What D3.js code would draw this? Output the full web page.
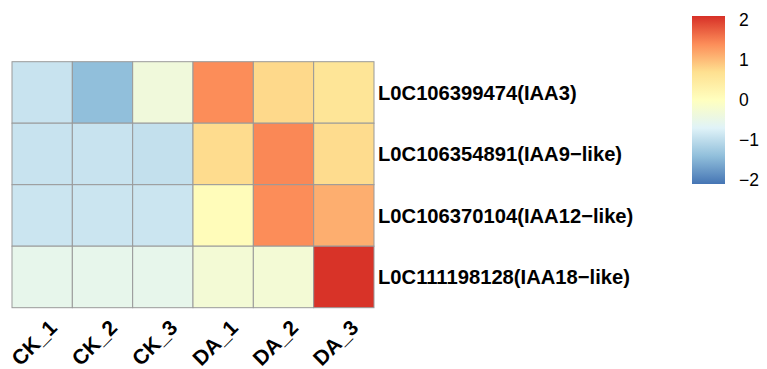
<!DOCTYPE html>
<html>
<head>
<meta charset="utf-8">
<script src="https://cdn.jsdelivr.net/npm/d3@7"></script>
<style>
  body { margin: 0; background: #fff; }
  svg { display: block; font-family: "Liberation Sans", Arial, sans-serif; }
</style>
</head>
<body>
<div id="chart"></div>
<script>
// samples (columns) and genes (rows)
const samples = ["CK_1", "CK_2", "CK_3", "DA_1", "DA_2", "DA_3"];
const genes = [
  "L0C106399474(IAA3)",
  "L0C106354891(IAA9\u2212like)",
  "L0C106370104(IAA12\u2212like)",
  "L0C111198128(IAA18\u2212like)"
];
// row-scaled expression values
const iaa3   = [-0.91, -1.40, -0.34, 1.40, 0.76, 0.59];
const iaa9   = [-0.91, -0.91, -0.96, 0.73, 1.44, 0.73];
const iaa12  = [-0.89, -0.89, -0.89, 0.07, 1.40, 1.12];
const iaa18  = [-0.54, -0.54, -0.54, -0.27, -0.27, 2.08];
const rows = [iaa3, iaa9, iaa12, iaa18];

const legendTicks = [-2, -1, 0, 1, 2];
const palette = ["#4575B4", "#91BFDB", "#E0F3F8", "#FFFFBF", "#FEE090", "#FC8D59", "#D73027"];
const colorMax = 2.1;

const width = 767, height = 369;

const svg = d3.select("#chart").append("svg")
    .attr("width", width)
    .attr("height", height);

const x = d3.scaleBand().domain(samples).range([12, 374]);
const y = d3.scaleBand().domain(genes).range([61.7, 307.7]);

const color = d3.scaleLinear()
    .domain(d3.range(palette.length).map(i => -colorMax + i * 2 * colorMax / (palette.length - 1)))
    .range(palette)
    .clamp(true);

const cells = [];
rows.forEach((vals, r) => vals.forEach((v, c) => cells.push({ gene: genes[r], sample: samples[c], value: v })));

// heatmap cells
svg.append("g")
  .selectAll("rect")
  .data(cells)
  .join("rect")
    .attr("x", d => x(d.sample))
    .attr("y", d => y(d.gene))
    .attr("width", x.bandwidth())
    .attr("height", y.bandwidth())
    .attr("fill", d => color(d.value))
    .attr("stroke", "#999999")
    .attr("stroke-width", 1);

// row labels
svg.append("g")
  .selectAll("text")
  .data(genes)
  .join("text")
    .attr("x", 378)
    .attr("y", d => y(d) + y.bandwidth() / 2)
    .attr("dy", "0.36em")
    .attr("font-size", "20.2px")
    .attr("font-weight", "bold")
    .attr("fill", "#000")
    .text(d => d);

// column labels, rotated 45 degrees
svg.append("g")
  .selectAll("text")
  .data(samples)
  .join("text")
    .attr("transform", d => `translate(${x(d) + x.bandwidth() / 2 + 5},318) rotate(-45)`)
    .attr("text-anchor", "end")
    .attr("dy", "0.74em")
    .attr("font-size", "21px")
    .attr("font-weight", "bold")
    .attr("fill", "#000")
    .text(d => d);

// colour legend
const ly = d3.scaleLinear().domain([-colorMax, colorMax]).range([184, 16]);

const grad = svg.append("defs").append("linearGradient")
    .attr("id", "legendGrad")
    .attr("x1", 0).attr("y1", 1).attr("x2", 0).attr("y2", 0);
grad.selectAll("stop")
  .data(palette)
  .join("stop")
    .attr("offset", (d, i) => i / (palette.length - 1))
    .attr("stop-color", d => d);

svg.append("rect")
    .attr("x", 692)
    .attr("y", ly(colorMax))
    .attr("width", 33)
    .attr("height", ly(-colorMax) - ly(colorMax))
    .attr("fill", "url(#legendGrad)");

svg.append("g")
  .selectAll("text")
  .data(legendTicks)
  .join("text")
    .attr("x", 739)
    .attr("y", d => ly(d))
    .attr("dy", "0.36em")
    .attr("font-size", "17.5px")
    .attr("fill", "#000")
    .text(d => d < 0 ? "\u2212" + Math.abs(d) : d);
</script>
</body>
</html>
